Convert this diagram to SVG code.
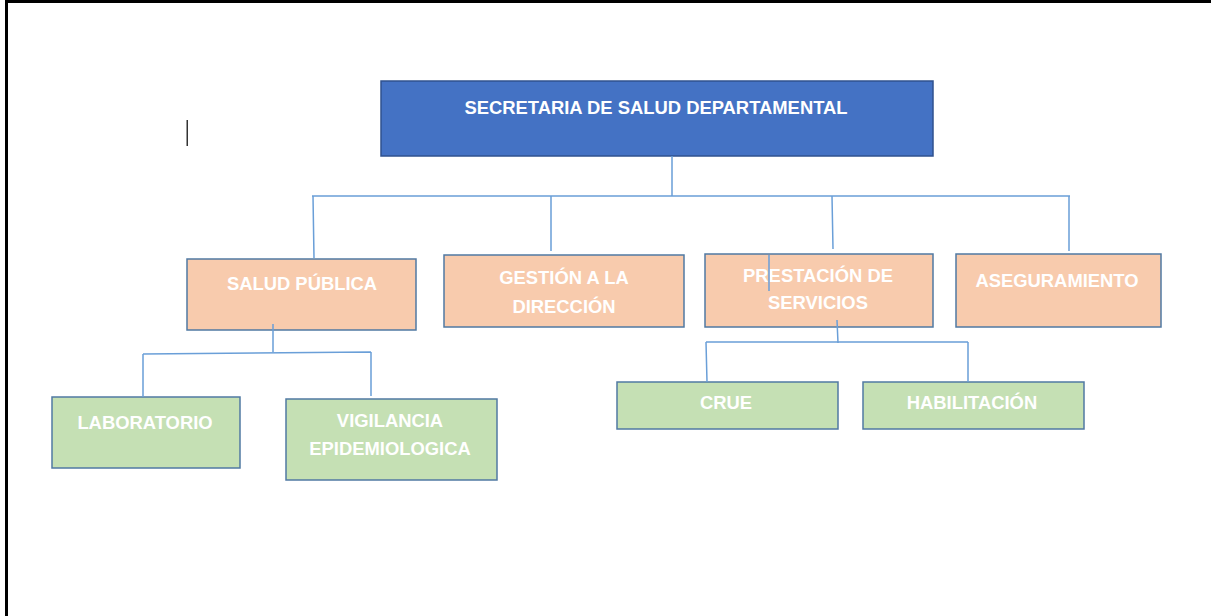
<svg xmlns="http://www.w3.org/2000/svg" width="1211" height="616" viewBox="0 0 1211 616">
<style>
.lbl{font-family:"Liberation Sans",Arial,sans-serif;font-weight:bold;font-size:18.4px;fill:#FFFFFF;text-anchor:middle}
.top{fill:#4472C4;stroke:#2F528F;stroke-width:1.5}
.sal{fill:#F8CBAD;stroke:#5079A3;stroke-width:1.5}
.grn{fill:#C5E0B4;stroke:#5079A3;stroke-width:1.5}
.con{fill:none;stroke:#6A9FD8;stroke-width:1.5}
</style>
<rect x="0" y="0" width="1211" height="616" fill="#FFFFFF"/>
<g id="frame">
<rect x="5" y="0" width="1206" height="3" fill="#000000"/>
<rect x="5" y="0" width="3" height="616" fill="#000000"/>
<rect x="186.5" y="120" width="1.5" height="26" fill="#333333"/>
</g>
<g id="n-secretaria">
<rect class="top" x="381" y="81" width="552" height="75"/>
<text class="lbl" x="656" y="114">SECRETARIA DE SALUD DEPARTAMENTAL</text>
</g>
<g id="n-salud">
<rect class="sal" x="187" y="259" width="229" height="71"/>
<text class="lbl" x="302" y="290">SALUD PÚBLICA</text>
</g>
<g id="n-gestion">
<rect class="sal" x="444" y="255" width="240" height="72"/>
<text class="lbl" x="564" y="284">GESTIÓN A LA</text>
<text class="lbl" x="564" y="313">DIRECCIÓN</text>
</g>
<g id="n-prestacion">
<rect class="sal" x="705" y="254" width="228" height="73"/>
<text class="lbl" x="818" y="282">PRESTACIÓN DE</text>
<text class="lbl" x="818" y="309">SERVICIOS</text>
</g>
<g id="n-aseguramiento">
<rect class="sal" x="956" y="254" width="205" height="73"/>
<text class="lbl" x="1057" y="287">ASEGURAMIENTO</text>
</g>
<g id="n-laboratorio">
<rect class="grn" x="52" y="397" width="188" height="71"/>
<text class="lbl" x="145" y="429">LABORATORIO</text>
</g>
<g id="n-vigilancia">
<rect class="grn" x="286" y="399" width="211" height="81"/>
<text class="lbl" x="390" y="427">VIGILANCIA</text>
<text class="lbl" x="390" y="455">EPIDEMIOLOGICA</text>
</g>
<g id="n-crue">
<rect class="grn" x="617" y="382" width="221" height="47"/>
<text class="lbl" x="726" y="409">CRUE</text>
</g>
<g id="n-habilitacion">
<rect class="grn" x="863" y="382" width="221" height="47"/>
<text class="lbl" x="972" y="409">HABILITACIÓN</text>
</g>
<g id="connectors">
<path class="con" d="M672 156 V196 M312 196 H1070 M313 196 L314 258 M551 196 V251 M832 196 L833 249 M1069 196 V251"/>
<path class="con" d="M273 324 V352 M143 354 L371 352 M143 354 V397 M371 352 V396"/>
<path class="con" d="M769 255 V291 M837 320 L838 343 M706 342 H968 M706 342 L707 382 M968 342 V382"/>
</g>
</svg>
